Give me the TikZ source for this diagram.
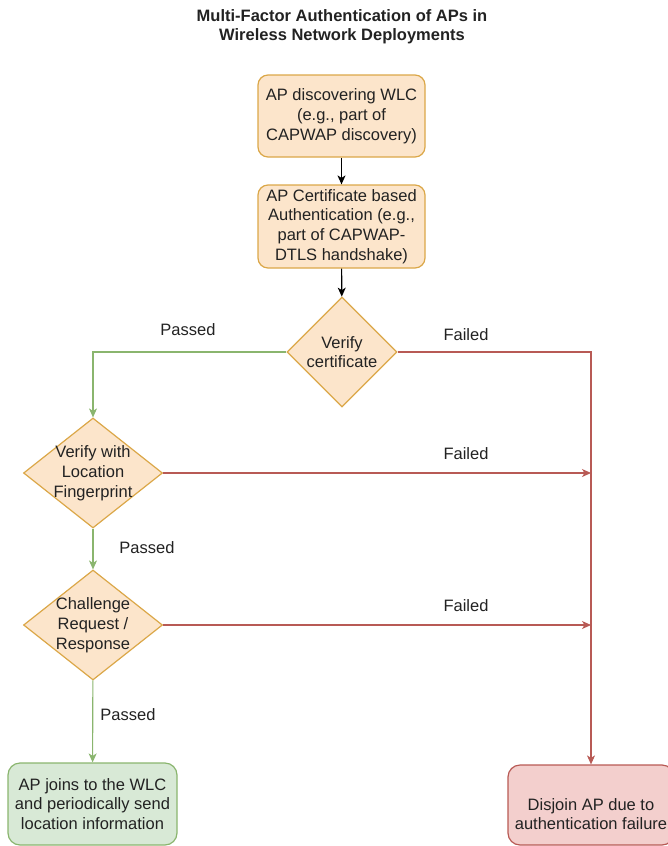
\documentclass[tikz,border=0pt]{standalone}
\usepackage{fontspec}
\setmainfont{Liberation Sans}
\usetikzlibrary{shapes.geometric,arrows.meta}

\definecolor{orangefill}{HTML}{FCE5CB}
\definecolor{orangeline}{HTML}{DBA748}
\definecolor{greenfill}{HTML}{D8E9D6}
\definecolor{greenline}{HTML}{8AB56E}
\definecolor{redfill}{HTML}{F3CFCD}
\definecolor{redline}{HTML}{B85A55}
\definecolor{textgray}{HTML}{222222}

\tikzset{
    every node/.style={font=\fontsize{16.5}{19.8}\selectfont, text=textgray},
    stepbox/.style={draw=orangeline, fill=orangefill, rounded corners=10pt,
        line width=1.2pt, align=center, inner sep=0pt,
        minimum width=167pt, minimum height=#1},
    decision/.style={diamond, draw=orangeline, fill=orangefill, line width=1.2pt,
        inner sep=0pt, minimum width=#1, minimum height=110pt},
    dtext/.style={align=center, inner sep=0pt},
    endbox/.style={rounded corners=12pt, line width=1.2pt, align=center,
        inner sep=0pt, minimum width=#1},
    flow/.style={line width=1.1pt, -{Stealth[length=9pt,width=8pt,inset=2.5pt]}},
    passed/.style={flow, draw=greenline},
    failed/.style={flow, draw=redline},
}

\begin{document}
\begin{tikzpicture}[x=1pt, y=-1pt]
    \clip (0,0) rectangle (668,846);
    % Title
    \node[font=\bfseries\fontsize{16.5}{19}\selectfont, align=center] (title) at (342,27)
        {Multi-Factor Authentication of APs in\\Wireless Network Deployments};

    % Draw the boxes
    \node[stepbox=82pt] (discover) at (341.5,116)
        {AP discovering WLC\\(e.g., part of\\CAPWAP discovery)};
    \node[stepbox=83pt] (certauth) at (341.5,226.5)
        {AP Certificate based\\Authentication (e.g.,\\part of CAPWAP-\\DTLS handshake)};

    % Draw the decisions
    \node[decision=110pt, label={[dtext]center:Verify\\certificate}] (verify) at (342,352) {};
    \node[decision=139pt, label={[dtext]center:Verify with\\Location\\Fingerprint}] (location) at (93,473) {};
    \node[decision=139pt, label={[dtext]center:Challenge\\Request /\\Response}] (challenge) at (93,625) {};

    % Draw the outcomes
    \node[endbox=169pt, draw=greenline, fill=greenfill, minimum height=82pt] (joined) at (92.5,804)
        {AP joins to the WLC\\and periodically send\\location information};
    \node[endbox=166pt, draw=redline, fill=redfill, minimum height=80pt,
        label={[dtext,yshift=-9pt]center:Disjoin AP due to\\authentication failure}] (disjoin) at (591,805) {};

    % Draw the edges
    \draw[flow] (discover) -- (certauth);
    \draw[flow] (certauth) -- (verify);
    \draw[passed] (verify.west) -| (location.north);
    \draw[passed] (location) -- (challenge);
    \draw[passed] (challenge) -- (joined);
    \draw[failed] (verify.east) -| (disjoin.north);
    \foreach \n in {location,challenge} {
            \coordinate (\n-fail) at (\n.east -| disjoin.north);
            \draw[failed] (\n.east) -- (\n-fail);
        }

    % Edge labels
    \node (pass1) at (188,330) {Passed};
    \node (pass2) at (147,548) {Passed};
    \node (pass3) at (128,715) {Passed};
    \node (fail1) at (466,335) {Failed};
    \node (fail2) at (466,454) {Failed};
    \node (fail3) at (466,606) {Failed};
\end{tikzpicture}
\end{document}
